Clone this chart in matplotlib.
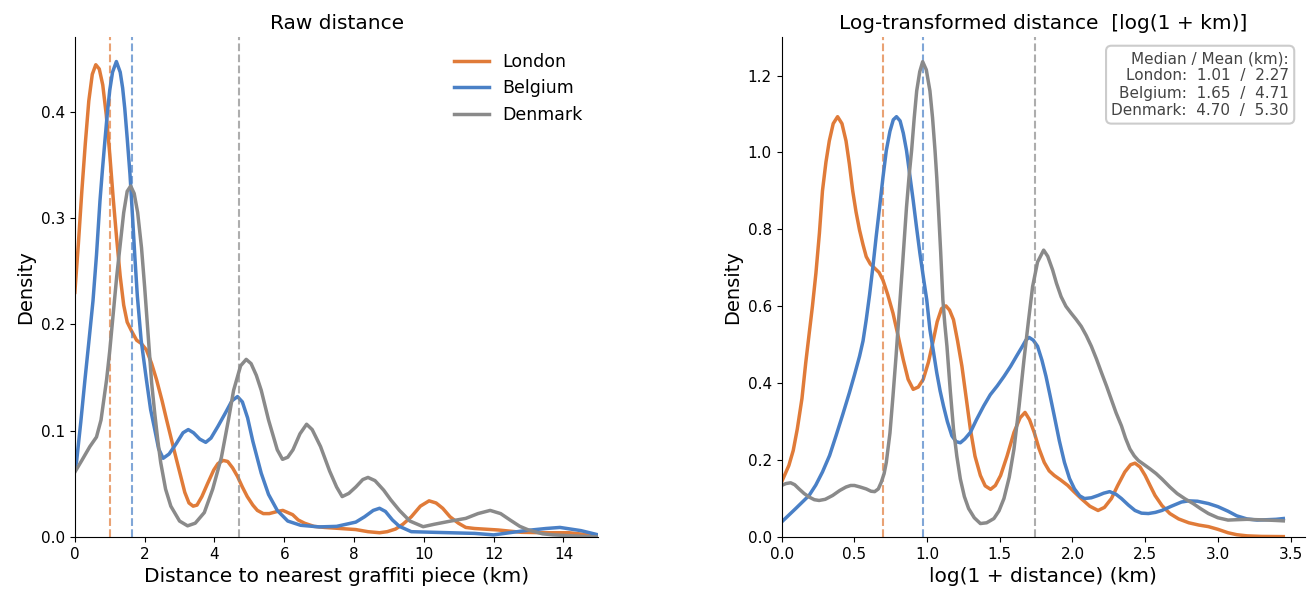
import matplotlib
matplotlib.use("Agg")
import matplotlib.pyplot as plt

# colours per region
colors = {"London": "#e07b39", "Belgium": "#4a80c6", "Denmark": "#8a8a8a"}

# raw distance KDE (km, density)
raw_london_x = [0.0, 0.1, 0.2, 0.3, 0.4, 0.5, 0.6, 0.7, 0.8, 0.9, 1.0, 1.1, 1.2, 1.3, 1.4, 1.5, 1.62,
                1.77, 1.9, 2.05, 2.2, 2.34, 2.5, 2.63, 2.78, 2.91, 3.05, 3.15, 3.27, 3.39, 3.5, 3.64,
                3.8, 3.98, 4.1, 4.25, 4.38, 4.52, 4.66, 4.8, 4.94, 5.1, 5.23, 5.4, 5.57, 5.8, 5.96,
                6.1, 6.24, 6.4, 6.58, 6.85, 7.15, 7.6, 8.05, 8.4, 8.73, 8.95, 9.19, 9.4, 9.64, 9.9,
                10.15, 10.35, 10.54, 10.75, 10.99, 11.2, 11.45, 12.13, 12.8, 13.48, 14.16, 15.0]
raw_london_y = [0.23, 0.275, 0.325, 0.37, 0.41, 0.435, 0.444, 0.44, 0.425, 0.397, 0.36, 0.318, 0.28,
                0.245, 0.218, 0.202, 0.194, 0.185, 0.182, 0.176, 0.163, 0.148, 0.128, 0.110, 0.09,
                0.073, 0.055, 0.042, 0.032, 0.029, 0.03, 0.038, 0.05, 0.063, 0.069, 0.072, 0.071,
                0.065, 0.057, 0.047, 0.038, 0.03, 0.025, 0.022, 0.022, 0.024, 0.025, 0.023, 0.021,
                0.016, 0.013, 0.01, 0.009, 0.008, 0.007, 0.005, 0.004, 0.005, 0.0075, 0.012, 0.019,
                0.029, 0.034, 0.032, 0.027, 0.019, 0.013, 0.009, 0.008, 0.0066, 0.0044, 0.004, 0.004,
                0.001]

raw_belgium_x = [0.0, 0.05, 0.17, 0.29, 0.4, 0.52, 0.62, 0.72, 0.79, 0.86, 0.93, 1.0, 1.08, 1.19, 1.3,
                 1.37, 1.43, 1.5, 1.58, 1.65, 1.72, 1.79, 1.9, 2.05, 2.17, 2.29, 2.4, 2.53, 2.7, 2.91,
                 3.1, 3.25, 3.4, 3.58, 3.75, 3.9, 4.1, 4.32, 4.5, 4.66, 4.8, 4.95, 5.1, 5.34, 5.55,
                 5.8, 6.1, 6.47, 7.0, 7.5, 8.05, 8.3, 8.55, 8.73, 8.9, 9.1, 9.3, 9.64, 10.3, 11.45,
                 12.0, 12.9, 13.5, 13.9, 14.5, 15.0]
raw_belgium_y = [0.063, 0.071, 0.108, 0.148, 0.183, 0.222, 0.265, 0.316, 0.345, 0.372, 0.398, 0.42,
                 0.437, 0.447, 0.437, 0.422, 0.403, 0.375, 0.341, 0.303, 0.263, 0.227, 0.185, 0.148,
                 0.12, 0.101, 0.083, 0.074, 0.078, 0.088, 0.098, 0.101, 0.098, 0.092, 0.089, 0.093,
                 0.104, 0.117, 0.128, 0.132, 0.127, 0.112, 0.09, 0.06, 0.04, 0.025, 0.015, 0.011,
                 0.0095, 0.01, 0.014, 0.019, 0.025, 0.027, 0.024, 0.016, 0.01, 0.005, 0.0044,
                 0.0034, 0.002, 0.006, 0.008, 0.009, 0.006, 0.002]

raw_denmark_x = [0.0, 0.2, 0.43, 0.62, 0.75, 0.91, 1.0, 1.10, 1.2, 1.29, 1.4, 1.5, 1.6, 1.7, 1.8, 1.91,
                 2.0, 2.1, 2.2, 2.29, 2.38, 2.46, 2.6, 2.75, 3.0, 3.23, 3.45, 3.71, 3.95, 4.2, 4.4,
                 4.55, 4.75, 4.91, 5.05, 5.2, 5.34, 5.55, 5.8, 5.95, 6.1, 6.25, 6.45, 6.64, 6.8, 7.04,
                 7.3, 7.5, 7.66, 7.85, 8.05, 8.25, 8.4, 8.6, 8.85, 9.05, 9.3, 9.6, 9.98, 10.3, 10.77,
                 11.2, 11.55, 11.9, 12.2, 12.47, 12.75, 13.0, 13.4, 13.7, 14.3, 15.0]
raw_denmark_y = [0.061, 0.072, 0.085, 0.094, 0.11, 0.148, 0.175, 0.210, 0.245, 0.272, 0.305, 0.325,
                 0.330, 0.323, 0.305, 0.272, 0.235, 0.19, 0.145, 0.116, 0.09, 0.070, 0.045, 0.029,
                 0.015, 0.0105, 0.013, 0.023, 0.045, 0.075, 0.11, 0.138, 0.161, 0.167, 0.163, 0.152,
                 0.138, 0.11, 0.082, 0.073, 0.075, 0.082, 0.097, 0.106, 0.101, 0.085, 0.062, 0.047,
                 0.038, 0.041, 0.047, 0.054, 0.056, 0.053, 0.044, 0.035, 0.025, 0.015, 0.0097, 0.012,
                 0.015, 0.0175, 0.022, 0.025, 0.022, 0.016, 0.01, 0.0066, 0.003, 0.002, 0.001, 0.0]

# log(1 + km) KDE
log_london_x = [0.0, 0.05, 0.08, 0.108, 0.14, 0.166, 0.19, 0.212, 0.236, 0.26, 0.281, 0.305, 0.328,
                0.355, 0.385, 0.415, 0.443, 0.466, 0.489, 0.512, 0.536, 0.56, 0.582, 0.61, 0.64, 0.67,
                0.697, 0.73, 0.766, 0.8, 0.836, 0.87, 0.905, 0.94, 0.974, 1.01, 1.044, 1.07, 1.1,
                1.13, 1.155, 1.182, 1.21, 1.24, 1.27, 1.298, 1.33, 1.367, 1.4, 1.437, 1.47, 1.506,
                1.55, 1.598, 1.64, 1.674, 1.705, 1.737, 1.77, 1.806, 1.84, 1.875, 1.92, 1.968, 2.01,
                2.06, 2.12, 2.176, 2.22, 2.268, 2.31, 2.36, 2.4, 2.43, 2.465, 2.5, 2.535, 2.568,
                2.615, 2.67, 2.73, 2.8, 2.87, 2.935, 3.0, 3.07, 3.13, 3.2, 3.3, 3.45]
log_london_y = [0.143, 0.186, 0.225, 0.281, 0.36, 0.453, 0.53, 0.6, 0.686, 0.79, 0.90, 0.975, 1.03,
                1.075, 1.093, 1.075, 1.03, 0.97, 0.90, 0.845, 0.798, 0.76, 0.729, 0.71, 0.699, 0.688,
                0.668, 0.63, 0.582, 0.525, 0.462, 0.41, 0.384, 0.39, 0.41, 0.455, 0.513, 0.56, 0.594,
                0.601, 0.59, 0.565, 0.51, 0.444, 0.36, 0.281, 0.21, 0.16, 0.133, 0.124, 0.134, 0.16,
                0.21, 0.272, 0.31, 0.324, 0.305, 0.272, 0.23, 0.194, 0.172, 0.16, 0.148, 0.134,
                0.118, 0.1, 0.08, 0.069, 0.077, 0.1, 0.133, 0.169, 0.188, 0.192, 0.182, 0.16, 0.133,
                0.108, 0.082, 0.061, 0.047, 0.037, 0.031, 0.027, 0.02, 0.011, 0.006, 0.003, 0.0015,
                0.001]

log_belgium_x = [0.0, 0.097, 0.189, 0.235, 0.281, 0.33, 0.374, 0.42, 0.466, 0.5, 0.536, 0.56, 0.582,
                 0.605, 0.628, 0.65, 0.674, 0.697, 0.72, 0.745, 0.768, 0.79, 0.815, 0.837, 0.859,
                 0.882, 0.905, 0.928, 0.951, 0.975, 0.998, 1.02, 1.045, 1.067, 1.09, 1.113, 1.14,
                 1.171, 1.2, 1.229, 1.26, 1.298, 1.34, 1.39, 1.435, 1.483, 1.53, 1.575, 1.615, 1.656,
                 1.68, 1.702, 1.73, 1.76, 1.79, 1.818, 1.845, 1.875, 1.91, 1.945, 1.98, 2.014, 2.05,
                 2.083, 2.13, 2.176, 2.215, 2.256, 2.3, 2.337, 2.385, 2.43, 2.475, 2.522, 2.57, 2.615,
                 2.68, 2.75, 2.8, 2.86, 2.935, 3.0, 3.07, 3.13, 3.2, 3.27, 3.34, 3.4, 3.45]
log_belgium_y = [0.039, 0.074, 0.108, 0.135, 0.169, 0.212, 0.263, 0.318, 0.375, 0.42, 0.47, 0.51,
                 0.565, 0.63, 0.703, 0.78, 0.858, 0.935, 1.005, 1.055, 1.085, 1.093, 1.082, 1.05,
                 1.005, 0.94, 0.875, 0.805, 0.738, 0.675, 0.617, 0.539, 0.48, 0.427, 0.38, 0.341, 0.3,
                 0.263, 0.248, 0.245, 0.255, 0.272, 0.305, 0.341, 0.37, 0.393, 0.418, 0.444, 0.47,
                 0.496, 0.512, 0.519, 0.512, 0.496, 0.46, 0.418, 0.37, 0.315, 0.25, 0.194, 0.152,
                 0.125, 0.107, 0.1, 0.102, 0.108, 0.114, 0.118, 0.111, 0.1, 0.083, 0.069, 0.062,
                 0.061, 0.064, 0.069, 0.08, 0.091, 0.094, 0.093, 0.087, 0.079, 0.067, 0.055, 0.047,
                 0.044, 0.045, 0.046, 0.048]

log_denmark_x = [0.0, 0.03, 0.062, 0.09, 0.12, 0.155, 0.189, 0.225, 0.258, 0.3, 0.351, 0.4, 0.443,
                 0.475, 0.501, 0.54, 0.582, 0.615, 0.64, 0.665, 0.686, 0.705, 0.72, 0.745, 0.766,
                 0.787, 0.808, 0.832, 0.859, 0.877, 0.894, 0.912, 0.929, 0.95, 0.970, 0.995, 1.02,
                 1.038, 1.055, 1.067, 1.078, 1.094, 1.109, 1.122, 1.137, 1.16, 1.182, 1.205, 1.229,
                 1.257, 1.286, 1.325, 1.367, 1.41, 1.46, 1.495, 1.529, 1.565, 1.598, 1.633, 1.667,
                 1.697, 1.726, 1.76, 1.802, 1.83, 1.864, 1.89, 1.922, 1.955, 1.991, 2.025, 2.06, 2.095,
                 2.13, 2.165, 2.2, 2.235, 2.267, 2.3, 2.337, 2.365, 2.395, 2.425, 2.453, 2.49, 2.534,
                 2.575, 2.615, 2.67, 2.72, 2.775, 2.83, 2.88, 2.935, 3.0, 3.07, 3.13, 3.2, 3.27, 3.34,
                 3.4, 3.45]
log_denmark_y = [0.134, 0.139, 0.141, 0.136, 0.125, 0.113, 0.104, 0.097, 0.095, 0.098, 0.108, 0.121,
                 0.13, 0.134, 0.134, 0.13, 0.125, 0.119, 0.118, 0.125, 0.143, 0.165, 0.194, 0.27,
                 0.367, 0.47, 0.582, 0.71, 0.858, 0.94, 1.005, 1.09, 1.16, 1.21, 1.236, 1.215, 1.16,
                 1.09, 1.005, 0.935, 0.858, 0.74, 0.617, 0.555, 0.496, 0.38, 0.281, 0.21, 0.151,
                 0.105, 0.074, 0.05, 0.035, 0.037, 0.048, 0.068, 0.1, 0.155, 0.229, 0.34, 0.462,
                 0.56, 0.651, 0.715, 0.746, 0.73, 0.694, 0.66, 0.625, 0.6, 0.582, 0.566, 0.548,
                 0.524, 0.496, 0.463, 0.427, 0.392, 0.358, 0.323, 0.289, 0.257, 0.229, 0.211, 0.199,
                 0.189, 0.177, 0.165, 0.151, 0.13, 0.113, 0.099, 0.087, 0.074, 0.061, 0.05, 0.044,
                 0.045, 0.046, 0.045, 0.044, 0.043, 0.042]

regions = ["London", "Belgium", "Denmark"]
medians = [1.01, 1.65, 4.70]
means = [2.27, 4.71, 5.30]
log_medians = [0.698, 0.975, 1.740]

raw_x = [raw_london_x, raw_belgium_x, raw_denmark_x]
raw_y = [raw_london_y, raw_belgium_y, raw_denmark_y]
log_x = [log_london_x, log_belgium_x, log_denmark_x]
log_y = [log_london_y, log_belgium_y, log_denmark_y]

fig, (ax1, ax2) = plt.subplots(1, 2, figsize=(13.13, 5.98), dpi=100)
fig.subplots_adjust(left=0.057, right=0.994, bottom=0.102, top=0.938, wspace=0.35)

for i, name in enumerate(regions):
    c = colors[name]
    ax1.plot(raw_x[i], raw_y[i], color=c, lw=2.5, label=name)
    ax1.axvline(medians[i], color=c, ls="--", lw=1.5, alpha=0.7)
    ax2.plot(log_x[i], log_y[i], color=c, lw=2.5)
    ax2.axvline(log_medians[i], color=c, ls="--", lw=1.5, alpha=0.7)

ax1.set_xlim(0, 15)
ax1.set_ylim(0, 0.47)
ax1.set_title("Raw distance", fontsize=14.5)
ax1.set_xlabel("Distance to nearest graffiti piece (km)", fontsize=14.5)
ax1.set_ylabel("Density", fontsize=14)
ax1.legend(frameon=False, fontsize=12.5, loc="upper right")

ax2.set_xlim(0, 3.6)
ax2.set_ylim(0, 1.3)
ax2.set_title("Log-transformed distance  [log(1 + km)]", fontsize=14.5)
ax2.set_xlabel("log(1 + distance) (km)", fontsize=14.5)
ax2.set_ylabel("Density", fontsize=14)

lines = ["Median / Mean (km):"]
for name, md, mn in zip(regions, medians, means):
    lines.append(f"{name}:  {md:.2f}  /  {mn:.2f}")
ax2.text(0.969, 0.972, "\n".join(lines), transform=ax2.transAxes, ha="right", va="top",
         multialignment="right", fontsize=11, color="#444444", linespacing=1.2,
         bbox=dict(boxstyle="round,pad=0.35", fc="white", ec="#cccccc", lw=1.5))

for ax in (ax1, ax2):
    ax.spines["top"].set_visible(False)
    ax.spines["right"].set_visible(False)
    ax.tick_params(labelsize=11)

fig.savefig("out.png", dpi=100)
